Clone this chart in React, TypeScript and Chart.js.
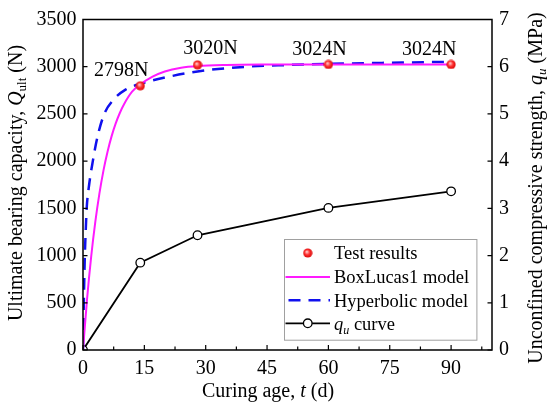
import React, { useEffect, useRef } from "react";
import { Chart, registerables } from "chart.js";
Chart.register(...registerables);

// ---- data ----
const testDays = [14, 28, 60, 90];
const testResults = [2798, 3020, 3024, 3024];
const testLabels = ["2798N", "3020N", "3024N", "3024N"];

const boxLucasDays = [0, 1, 2, 3, 4, 5, 6, 7, 8, 9, 10, 12, 14, 17, 20, 24, 28, 35, 45, 60, 75, 90];
const boxLucasValues = [0, 543, 989, 1354, 1654, 1900, 2100, 2265, 2400, 2510, 2600, 2735, 2812, 2895, 2950, 2990, 3008, 3019, 3023, 3024, 3024, 3024];

const hyperbolicDays = [0, 0.2, 0.45, 0.7, 0.9, 1.5, 2.4, 3.5, 5.2, 7.4, 10.5, 14, 20, 28, 40, 50, 60, 75, 90];
const hyperbolicValues = [0, 500, 1000, 1300, 1500, 1750, 2000, 2250, 2500, 2648, 2760, 2818, 2885, 2950, 3000, 3018, 3030, 3042, 3052];

const quDays = [0, 14, 28, 60, 90];
const quValues = [0, 1.85, 2.43, 3.01, 3.36];

const xMajorTicks = [0, 15, 30, 45, 60, 75, 90];

// ---- styles ----
const FONT = "'Liberation Serif', 'Times New Roman', serif";
Chart.defaults.font.family = FONT;
const MAGENTA = "#ff1aff";
const BLUE = "#1010ee";
const labelOffsets = [
  [-19, -15],
  [13, -16],
  [-9, -15],
  [-22, -15],
];

type Seg = { t: string; i?: boolean; sub?: boolean };

function drawRich(
  ctx: CanvasRenderingContext2D,
  segs: Seg[],
  x: number,
  y: number,
  size: number,
  align: "center" | "left",
  rot = 0
) {
  ctx.save();
  ctx.translate(x, y);
  ctx.rotate(rot);
  const fontFor = (s: Seg) => `${s.i ? "italic " : ""}${s.sub ? size * 0.65 : size}px ${FONT}`;
  let total = 0;
  const widths = segs.map((s) => {
    ctx.font = fontFor(s);
    const w = ctx.measureText(s.t).width;
    total += w;
    return w;
  });
  let cx = align === "center" ? -total / 2 : 0;
  ctx.textBaseline = "alphabetic";
  ctx.textAlign = "left";
  ctx.fillStyle = "#000";
  segs.forEach((s, k) => {
    ctx.font = fontFor(s);
    ctx.fillText(s.t, cx, s.sub ? size * 0.22 : 0);
    cx += widths[k];
  });
  ctx.restore();
}

function makeSphere(): HTMLCanvasElement {
  const c = document.createElement("canvas");
  c.width = 10;
  c.height = 10;
  const g = c.getContext("2d")!;
  const grad = g.createRadialGradient(4, 3.8, 0.5, 5, 5, 5);
  grad.addColorStop(0, "#ffc0c0");
  grad.addColorStop(0.45, "#ff3030");
  grad.addColorStop(1, "#d40000");
  g.fillStyle = grad;
  g.beginPath();
  g.arc(5, 5, 4.6, 0, Math.PI * 2);
  g.fill();
  return c;
}

export default function App() {
  const ref = useRef<HTMLCanvasElement>(null);

  useEffect(() => {
    document.body.style.margin = "0";
    const canvas = ref.current!;
    const sphere = makeSphere();

    const customPlugin = {
      id: "custom",
      afterDraw(chart: any) {
        const ctx: CanvasRenderingContext2D = chart.ctx;
        const a = chart.chartArea;
        const xs = chart.scales.x;
        const ys = chart.scales.y;
        const y1 = chart.scales.y1;
        ctx.save();
        // frame
        ctx.strokeStyle = "#000";
        ctx.lineWidth = 1.5;
        ctx.strokeRect(a.left, a.top, a.right - a.left, a.bottom - a.top);
        // inward ticks
        ctx.lineWidth = 1.2;
        ctx.beginPath();
        for (let v = 0; v < 100; v += 7.5) {
          const px = xs.getPixelForValue(v);
          const major = xMajorTicks.includes(v);
          ctx.moveTo(px, a.bottom);
          ctx.lineTo(px, a.bottom - (major ? 5 : 3.5));
        }
        ys.ticks.forEach((t: any) => {
          const py = ys.getPixelForValue(t.value);
          ctx.moveTo(a.left, py);
          ctx.lineTo(a.left + 4.5, py);
        });
        y1.ticks.forEach((t: any) => {
          const py = y1.getPixelForValue(t.value);
          ctx.moveTo(a.right, py);
          ctx.lineTo(a.right - 4.5, py);
        });
        ctx.stroke();

        // data labels
        ctx.font = `20px ${FONT}`;
        ctx.fillStyle = "#000";
        ctx.textAlign = "center";
        ctx.textBaseline = "middle";
        testDays.forEach((d, k) => {
          const px = xs.getPixelForValue(d) + labelOffsets[k][0];
          const py = ys.getPixelForValue(testResults[k]) + labelOffsets[k][1];
          ctx.fillText(testLabels[k], px, py);
        });

        // axis titles
        drawRich(ctx, [{ t: "Curing age, " }, { t: "t", i: true }, { t: " (d)" }], 268, 397, 20, "center");
        drawRich(
          ctx,
          [{ t: "Ultimate bearing capacity, " }, { t: "Q", i: true }, { t: "ult", sub: true }, { t: " (N)" }],
          22,
          183,
          20,
          "center",
          -Math.PI / 2
        );
        drawRich(
          ctx,
          [
            { t: "Unconfined compressive strength, " },
            { t: "q", i: true },
            { t: "u", i: true, sub: true },
            { t: " (MPa)" },
          ],
          542,
          188,
          20,
          "center",
          -Math.PI / 2
        );

        // legend
        const bx = a.right - 208;
        const by = a.bottom - 111;
        const bw = 192.4;
        const bh = 100.7;
        ctx.fillStyle = "#fff";
        ctx.fillRect(bx, by, bw, bh);
        ctx.strokeStyle = "#a0a0a0";
        ctx.lineWidth = 1;
        ctx.strokeRect(bx + 0.5, by + 0.5, bw, bh);
        const rows = [14, 38, 61.3, 84.3];
        const lx0 = bx + 1.5;
        const lx1 = bx + 46;
        const lmid = (lx0 + lx1) / 2;
        const tx = bx + 50;
        ctx.drawImage(sphere, lmid - 5, by + rows[0] - 5);
        ctx.strokeStyle = MAGENTA;
        ctx.lineWidth = 2;
        ctx.beginPath();
        ctx.moveTo(lx0, by + rows[1]);
        ctx.lineTo(lx1, by + rows[1]);
        ctx.stroke();
        ctx.strokeStyle = BLUE;
        ctx.lineWidth = 2.5;
        ctx.setLineDash([12, 8]);
        ctx.beginPath();
        ctx.moveTo(lx0 + 3, by + rows[2]);
        ctx.lineTo(lx1, by + rows[2]);
        ctx.stroke();
        ctx.setLineDash([]);
        ctx.strokeStyle = "#000";
        ctx.lineWidth = 1.8;
        ctx.beginPath();
        ctx.moveTo(lx0, by + rows[3]);
        ctx.lineTo(lx1, by + rows[3]);
        ctx.stroke();
        ctx.fillStyle = "#fff";
        ctx.lineWidth = 1.3;
        ctx.beginPath();
        ctx.arc(lmid, by + rows[3], 4.3, 0, Math.PI * 2);
        ctx.fill();
        ctx.stroke();
        const lsz = 18.5;
        const off = 6.3;
        drawRich(ctx, [{ t: "Test results" }], tx, by + rows[0] + off, lsz, "left");
        drawRich(ctx, [{ t: "BoxLucas1 model" }], tx, by + rows[1] + off, lsz, "left");
        drawRich(ctx, [{ t: "Hyperbolic model" }], tx, by + rows[2] + off, lsz, "left");
        drawRich(
          ctx,
          [{ t: "q", i: true }, { t: "u", i: true, sub: true }, { t: " curve" }],
          tx,
          by + rows[3] + off,
          lsz,
          "left"
        );
        ctx.restore();
      },
    };

    const tickFont = { family: FONT, size: 20 };
    const plain = (v: any) => String(v);

    const chart = new Chart(canvas, {
      type: "line",
      data: {
        datasets: [
          {
            label: "Test results",
            data: testDays.map((d, k) => ({ x: d, y: testResults[k] })),
            yAxisID: "y",
            showLine: false,
            pointStyle: sphere as any,
            pointRadius: 5,
          },
          {
            label: "BoxLucas1 model",
            data: boxLucasDays.map((d, k) => ({ x: d, y: boxLucasValues[k] })),
            yAxisID: "y",
            borderColor: MAGENTA,
            borderWidth: 2,
            pointRadius: 0,
            cubicInterpolationMode: "monotone",
          },
          {
            label: "Hyperbolic model",
            data: hyperbolicDays.map((d, k) => ({ x: d, y: hyperbolicValues[k] })),
            yAxisID: "y",
            borderColor: BLUE,
            borderWidth: 2.5,
            borderDash: [12, 8],
            pointRadius: 0,
            cubicInterpolationMode: "monotone",
          },
          {
            label: "qu curve",
            data: quDays.map((d, k) => ({ x: d, y: quValues[k] })),
            yAxisID: "y1",
            borderColor: "#000",
            borderWidth: 1.8,
            pointRadius: 4.3,
            pointBackgroundColor: "#fff",
            pointBorderColor: "#000",
            pointBorderWidth: 1.3,
            tension: 0,
          },
        ],
      },
      options: {
        responsive: false,
        animation: false,
        events: [],
        layout: { padding: { top: 19.5, left: 0, right: 0, bottom: 0 } },
        plugins: { legend: { display: false }, tooltip: { enabled: false } },
        scales: {
          x: {
            type: "linear",
            min: 0,
            max: 100,
            grid: { display: false, drawTicks: false },
            border: { display: false },
            ticks: { font: tickFont, color: "#000", padding: 7, maxRotation: 0, autoSkip: false, callback: plain },
            afterBuildTicks: (s: any) => {
              s.ticks = xMajorTicks.map((v) => ({ value: v }));
            },
            afterFit: (s: any) => {
              s.height = 56;
            },
          },
          y: {
            type: "linear",
            position: "left",
            min: 0,
            max: 3500,
            grid: { display: false, drawTicks: false },
            border: { display: false },
            ticks: { stepSize: 500, font: tickFont, color: "#000", padding: 6.5, callback: plain },
            afterFit: (s: any) => {
              s.width = 83;
            },
          },
          y1: {
            type: "linear",
            position: "right",
            min: 0,
            max: 7,
            grid: { display: false, drawTicks: false },
            border: { display: false },
            ticks: { stepSize: 1, font: tickFont, color: "#000", padding: 7, callback: plain },
            afterFit: (s: any) => {
              s.width = 58;
            },
          },
        },
      } as any,
      plugins: [customPlugin],
    });
    return () => chart.destroy();
  }, []);

  return (
    <div style={{ width: 550, height: 406 }}>
      <canvas ref={ref} width={550} height={406} style={{ display: "block" }} />
    </div>
  );
}
